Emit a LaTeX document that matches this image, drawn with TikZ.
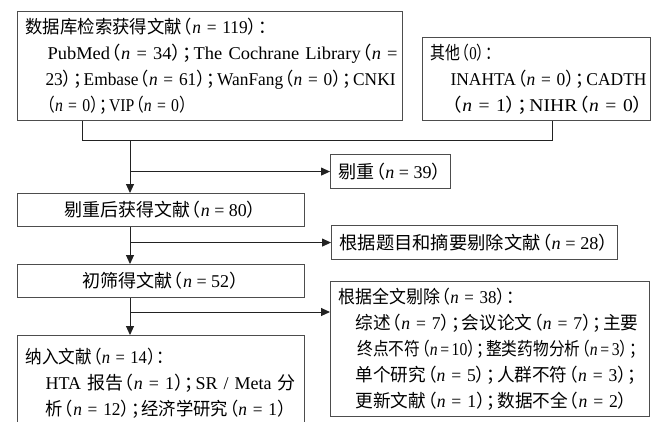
\documentclass[tikz,border=0pt]{standalone}
\usepackage{fontspec}
\setmainfont{Liberation Serif}
\newfontfamily\cjk{Noto Sans CJK SC}
\usetikzlibrary{arrows.meta}
\newcommand{\zh}[1]{{\cjk #1}}
\newcommand{\lp}{\kern-0.4em{\cjk （}}
\newcommand{\rp}{{\cjk ）}\kern-0.4em}
\newcommand{\sm}{{\cjk ；}\kern-0.4em}
\newcommand{\cl}{{\cjk ：}}
\newcommand{\pn}[1]{\lp\textit{n} = #1\rp}
\newcommand{\pt}[1]{\lp\textit{n}\,=\,#1\rp}
\newcommand{\fitto}[2]{\resizebox{#1pt}{\height}{#2}}
\newcommand{\ind}[1]{\hspace*{#1pt}}
\definecolor{boxgray}{HTML}{4D4D4D}
\definecolor{linegray}{HTML}{222222}
\begin{document}
\begin{tikzpicture}[x=1pt,y=-1pt,
  font=\fontsize{18}{26}\selectfont,
  box/.style={draw=boxgray, line width=1.1pt, inner xsep=8pt, inner ysep=0pt, anchor=north west, text=black},
  lbox/.style={box, align=left},
  conn/.style={draw=linegray, line width=1pt},
  arr/.style={conn, -{Triangle[length=9pt,width=8pt]}}]
\useasboundingbox (0,0) rectangle (664,421);
\fill[white] (0,0) rectangle (664,421);

\node[lbox, minimum width=385pt, minimum height=109pt, text width=369pt] (db) at (17,11) {%
\fitto{250}{\zh{数据库检索获得文献}\pn{119}\cl}\\
\ind{22}\fitto{350}{PubMed\pn{34}\sm The Cochrane Library\lp\textit{n} =}\\
\ind{20}\fitto{350}{23\rp\sm Embase\pn{61}\sm WanFang\pn{0}\sm CNKI}\\
\ind{20}\fitto{143}{\pn{0}\sm VIP\pn{0}}};

\node[lbox, minimum width=228pt, minimum height=83pt, text width=212pt] (oth) at (422,37) {%
\fitto{70}{\zh{其他}\lp 0\rp\cl}\\
\ind{20}\fitto{196}{INAHTA\pn{0}\sm CADTH}\\
\ind{20}\fitto{194}{\pn{1}\sm NIHR\pn{0}}};

\node[box, minimum width=118pt, minimum height=34pt] (dup) at (330,154) {\fitto{104}{\zh{剔重}\pn{39}}};
\node[box, minimum width=287pt, minimum height=33pt] (dedup) at (17,193) {\fitto{193}{\zh{剔重后获得文献}\pn{80}}};
\node[box, minimum width=286pt, minimum height=34pt] (abs) at (331,225) {\fitto{270}{\zh{根据题目和摘要剔除文献}\pn{28}}};
\node[box, minimum width=287pt, minimum height=33pt] (screen) at (17,264) {\fitto{158}{\zh{初筛得文献}\pn{52}}};

\node[lbox, minimum width=319pt, minimum height=135pt, text width=303pt] (full) at (330,281) {%
\fitto{185}{\zh{根据全文剔除}\pn{38}\cl}\\
\ind{17}\fitto{283}{\zh{综述}\pn{7}\sm\zh{会议论文}\pn{7}\sm\zh{主要}}\\
\ind{19}\fitto{281}{\zh{终点不符}\pt{10}\sm\zh{整类药物分析}\pt{3}\sm}\\
\ind{17}\fitto{283}{\zh{单个研究}\pn{5}\sm\zh{人群不符}\pn{3}\sm}\\
\ind{17}\fitto{273}{\zh{更新文献}\pn{1}\sm\zh{数据不全}\pn{2}}};

\node[lbox, minimum width=287pt, minimum height=95pt, text width=271pt] (incl) at (17,335) {%
\fitto{148}{\zh{纳入文献}\pn{14}\cl}\\
\ind{20}\fitto{250}{HTA \zh{报告}\pn{1}\sm SR / Meta \zh{分}}\\
\ind{20}\fitto{242}{\zh{析}\pn{12}\sm\zh{经济学研究}\pn{1}}};

\coordinate (jl) at (82,140);
\coordinate (jm) at (130,140);
\coordinate (jr) at (552,140);
\coordinate (b3) at (130,312);

\draw[conn] (db.south -| jl) -- (jl) -- (jr) -- (oth.south -| jr);
\draw[arr] (jm) -- (dedup.north -| jm);
\draw[arr] (dup.west -| jm) -- (dup.west);
\draw[arr] (dedup.south -| jm) -- (screen.north -| jm);
\draw[arr] (abs.west -| jm) -- (abs.west);
\draw[arr] (screen.south -| jm) -- (incl.north -| jm);
\draw[arr] (b3) -- (full.west |- b3);
\end{tikzpicture}
\end{document}
